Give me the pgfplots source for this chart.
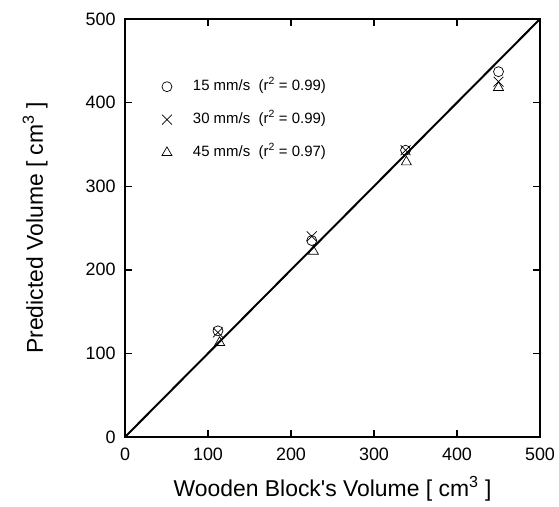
\documentclass[border=0pt]{standalone}
\usepackage{pgfplots}
\pgfplotsset{compat=1.18}
\usepackage{fontspec}
\setmainfont{Liberation Sans}
\begin{document}
\begin{tikzpicture}
\begin{axis}[name=ax, width=415bp, height=418bp, scale only axis,
  xmin=0, xmax=500, ymin=0, ymax=500,
  xtick={0,100,...,500}, ytick={0,100,...,500},
  tick align=inside, major tick length=7bp,
  every tick/.style={line width=1.4bp, black},
  axis line style={line width=1.8bp},
  /pgf/number format/assume math mode=true,
  tick label style={font=\fontsize{18}{20}\selectfont},
  xticklabel style={yshift=-7bp},
  yticklabel style={xshift=-6bp},
  label style={font=\fontsize{23}{26}\selectfont},
  xlabel={Wooden Block\textquotesingle s Volume [ cm\textsuperscript{3} ]},
  ylabel={Predicted Volume [ cm\textsuperscript{3} ]},
  xlabel style={at={(axis description cs:0.5,-0.1435)}, anchor=base},
  ylabel style={at={(axis description cs:-0.198,0.5)}, anchor=base},
  legend style={draw=none, fill=none, inner sep=0pt, outer sep=0pt,
    at={(axis cs:38.5,428)}, anchor=north west, row sep=18bp,
    font=\fontsize{15}{17}\selectfont,
    nodes={inner sep=0pt, text height=11bp, text depth=4bp}},
  legend cell align=left,
  legend image code/.code={\path[draw=none] (0bp,0bp) -- (36bp,0bp); \draw[#1, only marks] plot coordinates {(10bp,0bp)};},
]
\addplot[black, line width=2bp, forget plot] coordinates {(0,0) (500,500)};
\addplot[only marks, mark=o, mark size=5bp, black, mark options={line width=0.7bp}]
  coordinates {(112,127) (225,235) (338,343) (450,437)};
\addlegendentry{15 mm/s\ \ (r\textsuperscript{2} = 0.99)}
\addplot[only marks, mark=x, mark size=7bp, black, mark options={line width=0.7bp}]
  coordinates {(112,125) (225,240) (338,343) (450,425)};
\addlegendentry{30 mm/s\ \ (r\textsuperscript{2} = 0.99)}
\addplot[only marks, mark=triangle, mark size=5.8bp, black, mark options={line width=0.7bp}]
  coordinates {(114,113) (227,222) (339,329) (450,418)};
\addlegendentry{45 mm/s\ \ (r\textsuperscript{2} = 0.97)}
\end{axis}
\pgfresetboundingbox
\path ([shift={(-125bp,-69bp)}]ax.south west) rectangle ([shift={(19bp,19bp)}]ax.north east);
\end{tikzpicture}
\end{document}
